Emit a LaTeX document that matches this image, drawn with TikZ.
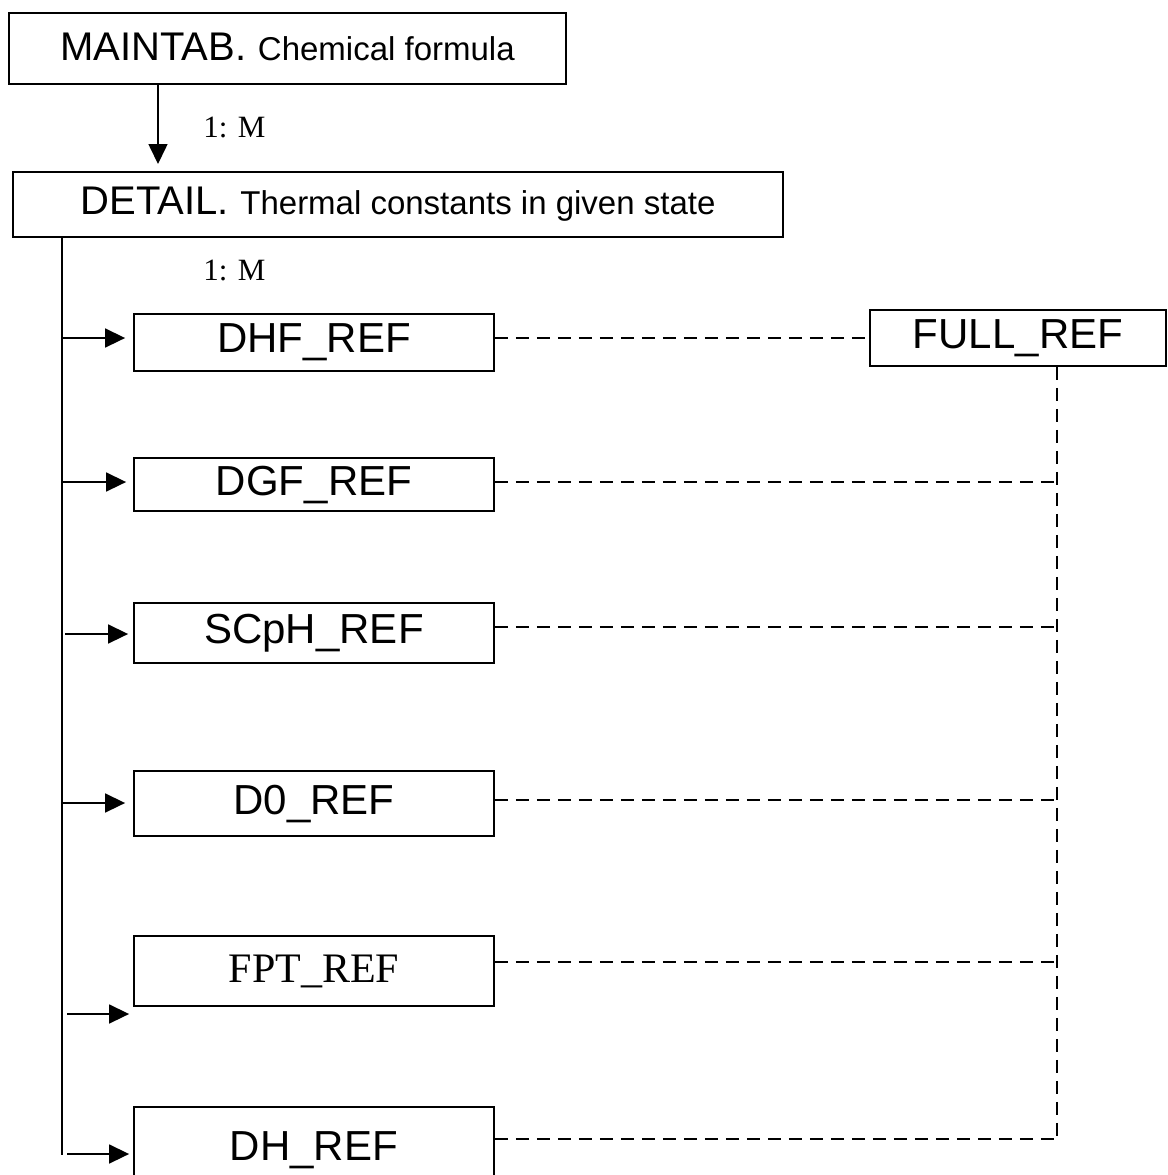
\documentclass[tikz,border=0pt]{standalone}
\usepackage{fontspec}
\setmainfont{Liberation Sans}
\newfontfamily\tms{Liberation Serif}
\usetikzlibrary{arrows.meta,positioning,calc}
\newcommand{\bigtxt}{\fontsize{20}{24}\selectfont}
\newcommand{\smtxt}{\fontsize{16.5}{20}\selectfont}
\newcommand{\reftxt}{\fontsize{21}{25}\selectfont}

\begin{document}
\begin{tikzpicture}[x=0.5pt,y=-0.5pt,>={Triangle[length=10pt,width=9.5pt]},
  tbl/.style={draw,line width=0.9pt,inner sep=0pt,font=\reftxt},
  lnk/.style={line width=0.8pt},
  ref/.style={line width=0.8pt,dash pattern=on 6.5pt off 4pt},
  card/.style={font=\tms\fontsize{15.5}{18}\selectfont,anchor=base west,inner sep=0pt}]
\useasboundingbox (0,0) rectangle (1168,1175);
% tablas principales
\node[tbl,minimum width=557*0.5pt,minimum height=71*0.5pt] (m) at (287.5,48.5) {\raisebox{1.5pt}{{\bigtxt MAINTAB.} {\smtxt Chemical formula}}};
\node[tbl,minimum width=770*0.5pt,minimum height=65*0.5pt] (d) at (398,204.5) {\raisebox{1pt}{{\bigtxt DETAIL.} {\smtxt Thermal constants in given state}}};
\coordinate (a) at (158,164);
\draw[lnk,->] (m.south -| a) -- (a);
\node[card] (c1) at (203,137) {1: M};
\node[card] (c2) at (203,280) {1: M};
% tablas de referencias
\node[tbl,minimum width=180pt,minimum height=57*0.5pt] (r1) at (314,342.5) {DHF\_REF};
\node[tbl,minimum width=180pt,minimum height=53*0.5pt] (r2) at (314,484.5) {DGF\_REF};
\node[tbl,minimum width=180pt,minimum height=60*0.5pt] (r3) at (314,633) {SCpH\_REF};
\node[tbl,minimum width=180pt,minimum height=65*0.5pt] (r4) at (314,803.5) {D0\_REF};
\node[tbl,minimum width=180pt,minimum height=70*0.5pt,font=\tms\fontsize{21}{25}\selectfont] (r5) at (314,971) {FPT\_REF};
\node[tbl,minimum width=180pt,minimum height=86*0.5pt] (r6) at (314,1150) {DH\_REF};
\node[tbl,minimum width=296*0.5pt,minimum height=56*0.5pt] (f) at (1018,338) {FULL\_REF};
% tronco de DETAIL
\coordinate (tb) at (62,1155);
\draw[lnk] (d.south -| tb) -- (tb);
\coordinate (j1) at (62,338);
\coordinate (j2) at (62,482);
\coordinate (j3) at (65,634);
\coordinate (j4) at (62,803);
\coordinate (j5) at (67,1014);
\coordinate (j6) at (67,1154);
\draw[lnk,->,shorten >=4pt] (j1) -- (j1 -| r1.west);
\draw[lnk,->,shorten >=3.5pt] (j2) -- (j2 -| r2.west);
\draw[lnk,->,shorten >=2.5pt] (j3) -- (j3 -| r3.west);
\draw[lnk,->,shorten >=4pt] (j4) -- (j4 -| r4.west);
\draw[lnk,->,shorten >=2pt] (j5) -- (j5 -| r5.west);
\draw[lnk,->,shorten >=2pt] (j6) -- (j6 -| r6.west);
% enlaces con FULL_REF
\coordinate (fb) at (1057,1139);
\draw[ref] (f.south -| fb) -- (fb);
\draw[ref] (r1.east |- f.west) -- (f.west);
\draw[ref] (r2.east |- 0,482) -- (fb |- 0,482);
\draw[ref] (r3.east |- 0,627) -- (fb |- 0,627);
\draw[ref] (r4.east |- 0,800) -- (fb |- 0,800);
\draw[ref] (r5.east |- 0,962) -- (fb |- 0,962);
\draw[ref] (r6.east |- fb) -- (fb);
\end{tikzpicture}
\end{document}
